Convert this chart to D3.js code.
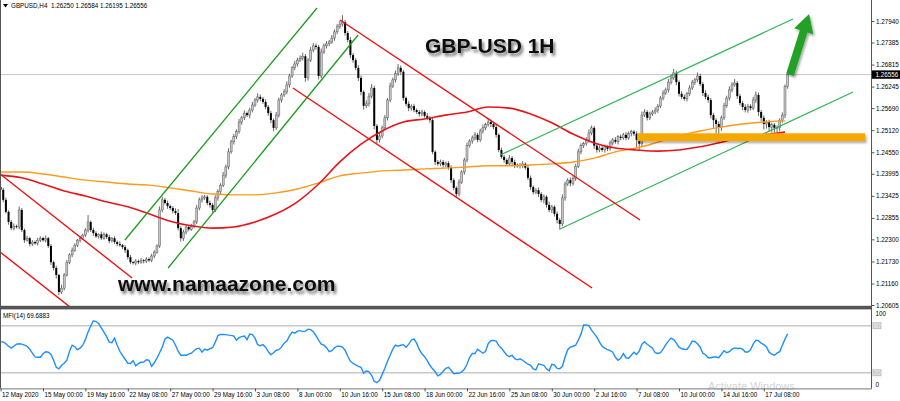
<!DOCTYPE html>
<html>
<head>
<meta charset="utf-8">
<script src="https://cdn.jsdelivr.net/npm/d3@7"></script>
<style>
  body { margin: 0; background: #fff; }
  svg { display: block; }
  text { font-family: "Liberation Sans", Arial, sans-serif; }
</style>
</head>
<body>
<div id="chart"></div>
<script>
// ---- data (GBPUSD H4) ----
const header = "GBPUSD,H4  1.26250 1.26584 1.26195 1.26556";
const firstOpen = 1.2365;
const closes = [
  1.2358,1.2332,1.2301,1.2275,1.2259,1.2264,1.2262,1.2306,1.2254,1.2228,
  1.2233,1.2218,1.2223,1.2220,1.2228,1.2233,1.2228,1.2233,1.2213,1.2171,
  1.2156,1.2138,1.2094,1.2104,1.2138,1.2171,1.2190,1.2202,1.2215,1.2228,
  1.2233,1.2241,1.2254,1.2275,1.2254,1.2246,1.2238,1.2243,1.2233,1.2243,
  1.2236,1.2226,1.2233,1.2223,1.2218,1.2215,1.2210,1.2202,1.2184,1.2171,
  1.2169,1.2174,1.2171,1.2176,1.2174,1.2179,1.2176,1.2187,1.2197,1.2213,
  1.2306,1.2332,1.2324,1.2316,1.2311,1.2303,1.2298,1.2259,1.2233,1.2249,
  1.2262,1.2256,1.2264,1.2275,1.2311,1.2332,1.2337,1.2340,1.2324,1.2319,
  1.2306,1.2337,1.2353,1.2370,1.2396,1.2417,1.2456,1.2482,1.2495,1.2508,
  1.2533,1.2544,1.2556,1.2551,1.2564,1.2577,1.2590,1.2598,1.2593,1.2585,
  1.2572,1.2556,1.2538,1.2518,1.2551,1.2590,1.2603,1.2611,1.2629,1.2652,
  1.2673,1.2683,1.2693,1.2698,1.2703,1.2647,1.2693,1.2719,1.2730,1.2727,
  1.2652,1.2714,1.2730,1.2735,1.2740,1.2750,1.2766,1.2779,1.2786,1.2791,
  1.2763,1.2745,1.2706,1.2693,1.2673,1.2647,1.2611,1.2575,1.2580,1.2600,
  1.2621,1.2523,1.2487,1.2497,1.2518,1.2544,1.2590,1.2626,1.2642,1.2658,
  1.2673,1.2663,1.2595,1.2580,1.2569,1.2574,1.2564,1.2559,1.2554,1.2559,
  1.2549,1.2544,1.2538,1.2456,1.2430,1.2425,1.2430,1.2422,1.2427,1.2415,
  1.2383,1.2363,1.2347,1.2378,1.2404,1.2435,1.2472,1.2484,1.2492,1.2500,
  1.2487,1.2510,1.2518,1.2526,1.2533,1.2528,1.2520,1.2500,1.2461,1.2443,
  1.2435,1.2425,1.2440,1.2430,1.2420,1.2422,1.2420,1.2425,1.2415,1.2389,
  1.2365,1.2352,1.2357,1.2347,1.2332,1.2340,1.2319,1.2306,1.2314,1.2296,
  1.2280,1.2270,1.2337,1.2373,1.2383,1.2375,1.2388,1.2419,1.2456,1.2472,
  1.2477,1.2487,1.2505,1.2518,1.2472,1.2461,1.2466,1.2461,1.2469,1.2464,
  1.2479,1.2487,1.2482,1.2495,1.2492,1.2500,1.2492,1.2503,1.2508,1.2503,
  1.2487,1.2477,1.2551,1.2559,1.2544,1.2554,1.2559,1.2564,1.2574,1.2595,
  1.2608,1.2616,1.2636,1.2647,1.2660,1.2636,1.2606,1.2598,1.2593,1.2606,
  1.2621,1.2636,1.2642,1.2652,1.2631,1.2608,1.2598,1.2590,1.2551,1.2538,
  1.2528,1.2520,1.2544,1.2575,1.2595,1.2616,1.2629,1.2634,1.2600,1.2582,
  1.2572,1.2564,1.2574,1.2569,1.2590,1.2603,1.2559,1.2544,1.2528,1.2533,
  1.2520,1.2526,1.2518,1.2518,1.2538,1.2551,1.2625,1.26556
];
// wick lengths above / below the body, in pips
const wickUp = [
  8,5,6,4,5,7,4,9,5,4, 6,3,5,4,6,5,4,7,3,5, 4,6,3,9,5,6,4,7,5,3, 6,4,5,18,4,6,5,3,7,5,
  4,6,3,5,4,7,3,5,4,6, 3,5,4,6,3,5,4,6,5,4, 9,8,5,6,4,5,7,10,5,6, 4,5,6,5,8,6,7,5,4,6,
  5,7,6,5,8,6,9,5,7,6, 8,5,7,4,6,8,5,9,6,5, 7,5,6,4,8,6,5,7,9,6, 5,8,6,7,9,6,5,8,7,6,
  5,9,6,7,5,8,6,7,9,18, 6,5,8,6,5,7,6,4,9,8, 10,6,5,8,6,7,5,9,6,8, 10,6,5,4,7,5,6,4,5,6,
  4,7,5,6,4,5,6,5,4,5, 6,5,4,7,5,6,8,5,6,7, 5,6,8,5,9,6,5,7,4,6, 5,4,8,5,6,4,5,7,4,5,
  6,4,5,7,5,6,4,8,5,4, 6,5,9,6,5,7,5,6,8,6, 5,7,9,6,5,4,7,5,6,4, 6,5,7,4,6,5,7,6,5,4,
  6,5,9,7,5,6,5,7,6,5, 7,6,8,9,10,6,5,7,6,5, 7,6,5,9,6,5,7,6,5,6, 5,7,6,8,6,9,7,10,5,6,
  5,7,6,5,8,9,6,5,6,5, 6,5,4,6,5,7,5,3
];
const wickDn = [
  5,6,4,7,5,6,4,6,5,7, 4,6,5,4,6,5,4,6,5,7, 6,9,8,5,6,4,5,6,4,5, 6,4,5,6,5,7,4,6,5,4,
  5,6,4,5,6,4,5,7,6,5, 4,6,5,4,6,5,4,5,6,4, 5,6,4,7,5,6,5,6,9,7, 6,5,4,6,5,6,7,5,6,7,
  6,5,7,6,5,8,6,5,7,6, 5,7,6,5,8,6,5,7,6,5, 6,7,8,9,5,6,7,5,6,7, 5,6,7,5,6,10,7,5,6,7,
  9,6,5,7,6,5,7,6,5,6, 7,6,8,7,6,8,9,10,6,7, 6,9,10,7,6,5,7,6,5,7, 6,8,7,6,8,7,6,5,7,6,
  5,6,7,6,8,5,6,7,6,5, 7,6,8,6,5,7,6,5,7,6, 6,5,7,6,5,8,6,7,6,5, 7,6,5,8,6,5,7,6,5,6,
  7,6,5,8,6,9,7,6,8,7, 9,15,6,7,5,8,6,7,5,6, 6,5,7,6,8,7,6,5,7,6, 5,6,5,7,6,5,6,5,7,6,
  20,16,6,5,7,6,5,6,7,5, 6,5,7,6,5,8,7,6,5,7, 6,5,7,6,5,8,6,7,9,20, 45,38,10,6,5,7,6,5,7,6,
  8,6,7,6,5,8,10,9,14,12, 10,14,12,11,9,7,8,6
];
// MFI(14), one value per bar
const mfi = [
  59.4,59.4,57.0,53.8,51.3,53.8,56.4,57.0,56.4,55.1, 53.8,50.0,44.9,40.1,39.7,39.7,44.2,46.8,46.2,43.6,
  35.9,26.9,25.0,29.5,32.1,35.9,47.4,55.1,53.2,49.4, 51.3,55.1,62.2,71.8,79.5,86.3,85.3,82.7,77.3,71.8,
  66.0,59.0,58.3,64.1,55.1,47.4,41.7,37.2,32.1,31.7, 35.3,28.8,31.7,33.3,33.7,36.5,35.9,28.2,32.7,38.5,
  45.5,52.6,62.8,65.4,63.5,61.5,55.1,47.4,42.3,42.3, 42.3,43.6,44.9,48.1,50.6,51.3,46.2,50.0,48.7,50.6,
  51.9,59.0,67.3,68.8,68.8,68.6,67.9,67.7,66.7,61.5, 64.7,66.0,66.7,62.2,69.2,68.6,64.1,55.8,54.5,55.8,
  52.6,46.8,42.9,45.5,48.7,49.4,52.6,57.7,60.3,66.7, 71.8,70.5,73.1,73.7,72.4,73.1,75.6,75.0,72.2,67.3,
  61.5,56.4,55.1,51.9,46.8,48.1,51.9,53.8,53.8,52.6, 48.7,41.0,34.6,32.1,30.1,28.2,26.9,19.2,22.4,21.2,
  16.7,9.0,7.3,10.3,17.9,25.6,34.6,42.3,50.0,55.1, 53.8,55.1,55.8,52.6,56.4,61.5,63.1,57.7,49.4,44.2,
  40.4,35.3,29.5,25.0,21.2,16.0,17.9,21.8,25.6,26.9, 23.1,18.8,19.2,19.6,20.9,24.4,30.8,39.7,44.5,44.5,
  50.0,47.4,44.9,47.4,57.0,60.9,61.1,60.3,54.5,51.3, 46.8,42.3,40.4,42.3,37.8,36.5,37.8,35.9,33.3,30.8,
  29.5,25.0,23.7,31.4,30.4,29.5,25.0,22.4,30.8,29.9, 25.6,25.0,28.2,39.7,49.4,52.6,53.8,55.1,61.5,69.2,
  80.8,80.8,80.1,74.4,69.9,65.4,59.0,53.8,51.3,49.4, 48.1,46.2,39.7,35.9,38.5,44.5,39.1,38.5,42.3,46.2,
  43.2,47.4,56.4,59.6,56.4,53.8,51.3,45.5,44.5,45.5, 50.0,55.8,60.3,64.1,62.2,57.7,52.6,50.6,50.0,49.7,
  54.5,60.3,59.6,57.0,52.6,44.9,42.9,39.1,39.1,40.1, 40.1,39.1,43.6,48.1,45.5,46.8,50.0,51.7,50.9,51.3,
  50.0,46.5,46.5,49.4,56.4,61.5,60.9,57.7,55.8,53.2, 46.2,43.6,42.3,44.9,46.8,55.1,62.8,69.6883
];
// moving averages, sampled every 8 bars
const maStep = 8;
const maRed = [1.2396,1.2389,1.2373,1.2355,1.2342,1.2327,1.2314,1.2296,1.2277,1.2265,1.2259,1.2262,1.2275,
  1.2296,1.2327,1.2373,1.2430,1.2476,1.2510,1.2533,1.2541,1.2551,1.2559,1.2572,1.2569,1.2554,1.2531,1.2502,
  1.2479,1.2466,1.2461,1.2458,1.2461,1.2469,1.2481,1.2494,1.2500,1.2507];
const maOrange = [1.2404,1.2404,1.2399,1.2391,1.2383,1.2378,1.2373,1.2370,1.2363,1.2355,1.2347,1.2345,1.2345,
  1.2350,1.2360,1.2376,1.2394,1.2401,1.2407,1.2409,1.2412,1.2414,1.2417,1.2420,1.2420,1.2422,1.2425,1.2430,
  1.2440,1.2456,1.2466,1.2481,1.2497,1.2510,1.2520,1.2528,1.2533,1.2536];

// trendlines: [bar0, price0, bar1, price1]
const greenChannelUp = [[46.9, 1.22284, 119.4, 1.28276], [63.2, 1.21561, 134.9, 1.27578]];
const greenChannelNow = [[188.5, 1.24479, 299.0, 1.27992], [211.1, 1.22568, 321.7, 1.26106]];
const redChannels = [[-0.2, 1.23988, 49.6, 1.21302], [-0.2, 1.21974, 26.2, 1.20553],
                     [128.1, 1.27966, 241.3, 1.22800], [110.3, 1.26209, 223.2, 1.21044]];
const supportZone = [240.2, 326.2, 1.2484, 1.2504];   // bar from, bar to, price low, price high
const arrowFrom = [297.9, 1.2655];
const arrowTo = [305.1, 1.2812];

const priceTicks = [1.27940, 1.27385, 1.26815, 1.26245, 1.25690, 1.25120, 1.24550,
                    1.23995, 1.23425, 1.22855, 1.22300, 1.21730, 1.21160, 1.20605];
const lastPrice = 1.26556;
const timeLabels = ["12 May 2020", "15 May 00:00", "19 May 16:00", "22 May 08:00", "27 May 00:00",
  "29 May 16:00", "3 Jun 08:00", "8 Jun 00:00", "10 Jun 16:00", "15 Jun 08:00", "18 Jun 00:00",
  "22 Jun 16:00", "25 Jun 08:00", "30 Jun 00:00", "2 Jul 16:00", "7 Jul 08:00", "10 Jul 00:00",
  "14 Jul 16:00", "17 Jul 08:00"];
const timeLabelBars = timeLabels.map((d, k) => k * 16);
const mfiLevels = [80, 20];
const mfiScaleLabels = [100, 0];

// ---- layout ----
const width = 900, height = 401;
const paneRight = 871;
const pip = 0.0001;
const fs = 6.3;

const svg = d3.select("#chart").append("svg")
    .attr("width", width)
    .attr("height", height);

const defs = svg.append("defs");
defs.append("clipPath").attr("id", "mainClip")
  .append("rect").attr("x", 0).attr("y", 0).attr("width", paneRight).attr("height", 306);
defs.append("clipPath").attr("id", "mfiClip")
  .append("rect").attr("x", 0).attr("y", 310).attr("width", paneRight).attr("height", 78);
const shadow = defs.append("filter").attr("id", "shadow")
    .attr("x", "-10%").attr("y", "-30%").attr("width", "130%").attr("height", "180%");
shadow.append("feDropShadow").attr("dx", 1.5).attr("dy", 2).attr("stdDeviation", 1.2)
    .attr("flood-color", "#000").attr("flood-opacity", 0.35);
const textShadow = defs.append("filter").attr("id", "textShadow")
    .attr("x", "-10%").attr("y", "-40%").attr("width", "130%").attr("height", "200%");
textShadow.append("feDropShadow").attr("dx", 2).attr("dy", 3).attr("stdDeviation", 1.8)
    .attr("flood-color", "#000").attr("flood-opacity", 0.55);

const n = closes.length;
const x = d3.scaleLinear().domain([0, n - 1]).range([0.6, 0.6 + 2.65 * (n - 1)]);
const y = d3.scaleLinear().domain([1.20605, 1.27940]).range([305, 21]);
const ym = d3.scaleLinear().domain([0, 100]).range([388.4, 310]);

const candles = closes.map((c, i) => {
  const o = i ? closes[i - 1] : firstOpen;
  return { i, o, c, h: Math.max(o, c) + wickUp[i] * pip, l: Math.min(o, c) - wickDn[i] * pip };
});

const main = svg.append("g").attr("clip-path", "url(#mainClip)");

// last price line
main.append("line")
    .attr("x1", 0).attr("x2", paneRight)
    .attr("y1", y(lastPrice)).attr("y2", y(lastPrice))
    .attr("stroke", "#c8c8c8").attr("stroke-width", 1);

// candles
const gC = main.append("g");
gC.selectAll("line").data(candles).join("line")
    .attr("x1", d => x(d.i)).attr("x2", d => x(d.i))
    .attr("y1", d => y(d.h)).attr("y2", d => y(d.l))
    .attr("stroke", "#444").attr("stroke-width", 0.8);
gC.selectAll("rect").data(candles).join("rect")
    .attr("x", d => x(d.i) - 1).attr("width", 2)
    .attr("y", d => y(Math.max(d.o, d.c)))
    .attr("height", d => Math.max(0.8, Math.abs(y(d.o) - y(d.c))))
    .attr("fill", d => d.c >= d.o ? "#c4c4c4" : "#000")
    .attr("stroke", d => d.c >= d.o ? "#555" : "none")
    .attr("stroke-width", 0.45);

// moving averages
const maLine = d3.line()
    .x((d, k) => x(k * maStep))
    .y(d => y(d))
    .curve(d3.curveMonotoneX);
main.append("path").attr("d", maLine(maOrange))
    .attr("fill", "none").attr("stroke", "#ff9a1a").attr("stroke-width", 1.4);
main.append("path").attr("d", maLine(maRed))
    .attr("fill", "none").attr("stroke", "#e8141c").attr("stroke-width", 1.6);

// trendlines
function drawLines(list, colour, w) {
  main.append("g").selectAll("line").data(list).join("line")
      .attr("x1", d => x(d[0])).attr("y1", d => y(d[1]))
      .attr("x2", d => x(d[2])).attr("y2", d => y(d[3]))
      .attr("stroke", colour).attr("stroke-width", w);
}
drawLines(greenChannelUp, "#1f9a1f", 1.3);
drawLines(greenChannelNow, "#34b45a", 1.3);
drawLines(redChannels, "#f01010", 1.4);

// support zone
main.append("rect")
    .attr("x", x(supportZone[0])).attr("width", x(supportZone[1]) - x(supportZone[0]))
    .attr("y", y(supportZone[3])).attr("height", y(supportZone[2]) - y(supportZone[3]))
    .attr("fill", "#f7a800").attr("filter", "url(#shadow)");

// arrow
(function () {
  const sx = x(arrowFrom[0]), sy = y(arrowFrom[1]);
  const tx = x(arrowTo[0]), ty = y(arrowTo[1]);
  const len = Math.hypot(tx - sx, ty - sy);
  const ux = (tx - sx) / len, uy = (ty - sy) / len;
  const nx = -uy, ny = ux;
  const hl = 18, hw = 10, sw = 4;
  const bx = tx - ux * hl, by = ty - uy * hl;
  const pts = [
    [sx + nx * sw, sy + ny * sw], [bx + nx * sw, by + ny * sw], [bx + nx * hw, by + ny * hw],
    [tx, ty], [bx - nx * hw, by - ny * hw], [bx - nx * sw, by - ny * sw], [sx - nx * sw, sy - ny * sw]
  ];
  svg.append("polygon").attr("points", pts.map(p => p.join(",")).join(" "))
      .attr("fill", "#22a126").attr("filter", "url(#shadow)");
})();

// overlay texts
svg.append("text").attr("x", 425).attr("y", 53)
    .attr("font-size", 21).attr("font-weight", "bold").attr("fill", "#111")
    .attr("filter", "url(#textShadow)")
    .text("GBP-USD 1H");
svg.append("text").attr("x", 118).attr("y", 291)
    .attr("font-size", 21).attr("font-weight", "bold").attr("fill", "#111")
    .attr("filter", "url(#textShadow)")
    .text("www.namaazone.com");

// header
svg.append("path").attr("d", "M3,4 L8,4 L5.5,7.5 Z").attr("fill", "#000");
svg.append("text").attr("x", 11).attr("y", 8).attr("font-size", fs).attr("fill", "#000")
    .attr("xml:space", "preserve").text(header);

// ---- MFI pane ----
const mfiG = svg.append("g").attr("clip-path", "url(#mfiClip)");
mfiG.selectAll("line.level").data(mfiLevels).join("line")
    .attr("class", "level")
    .attr("x1", 0).attr("x2", paneRight)
    .attr("y1", d => ym(d)).attr("y2", d => ym(d))
    .attr("stroke", "#c8c8c8").attr("stroke-width", 1.6);
mfiG.append("path")
    .attr("d", d3.line().x((d, i) => x(i)).y(d => ym(d))(mfi))
    .attr("fill", "none").attr("stroke", "#1e8fff").attr("stroke-width", 1.4);
svg.append("text").attr("x", 3).attr("y", 317.5).attr("font-size", fs).attr("fill", "#000")
    .text("MFI(14) " + mfi[mfi.length - 1].toFixed(4));

// watermark (sits in the indicator pane, just above the time labels)
svg.append("text").attr("x", 708).attr("y", 390).attr("font-size", 11)
    .attr("font-family", "\"Open Sans\", sans-serif")
    .attr("fill", "#c8c8c8").attr("fill-opacity", 0.8).text("Activate Windows");

// separator between panes
svg.append("rect").attr("x", 0).attr("y", 305.8).attr("width", paneRight).attr("height", 3.6)
    .attr("fill", "#555");

// borders
svg.append("line").attr("x1", 0.5).attr("x2", 0.5).attr("y1", 0).attr("y2", 388.4)
    .attr("stroke", "#555").attr("stroke-width", 1);
svg.append("line").attr("x1", paneRight + 0.5).attr("x2", paneRight + 0.5).attr("y1", 0).attr("y2", 388.4)
    .attr("stroke", "#555").attr("stroke-width", 1);

// price axis
const yAxis = svg.append("g").attr("transform", `translate(${paneRight + 0.5},0)`)
    .call(d3.axisRight(y).tickValues(priceTicks).tickSize(3).tickPadding(1.5)
      .tickFormat(d3.format(".5f")));
yAxis.select(".domain").remove();
yAxis.selectAll("text").attr("font-size", fs).attr("fill", "#000")
    .attr("font-family", "\"Liberation Sans\", Arial, sans-serif");
yAxis.selectAll("line").attr("stroke", "#555");

// last price tag
svg.append("rect").attr("x", paneRight + 1).attr("y", y(lastPrice) - 4.2)
    .attr("width", width - paneRight - 1).attr("height", 8.4).attr("fill", "#000");
svg.append("text").attr("x", paneRight + 4.5).attr("y", y(lastPrice) + 2.2)
    .attr("font-size", fs).attr("fill", "#fff").text(d3.format(".5f")(lastPrice));

// MFI scale
svg.selectAll("text.mfiScale").data(mfiScaleLabels).join("text")
    .attr("class", "mfiScale")
    .attr("x", paneRight + 4.5)
    .attr("y", d => d === 100 ? ym(d) + 6 : ym(d) - 1)
    .attr("font-size", fs).attr("fill", "#000")
    .text(d => d);
const lvl = svg.selectAll("g.lvl").data(mfiLevels).join("g").attr("class", "lvl");
lvl.append("rect").attr("x", paneRight + 1.5).attr("y", d => ym(d) - 3.5)
    .attr("width", 9).attr("height", 7).attr("fill", "#c4c4c4");
lvl.append("text").attr("x", paneRight + 2.5).attr("y", d => ym(d) + 2.2)
    .attr("font-size", fs).attr("fill", "#f4f4f4").text(d => d);

// time axis
const xAxis = svg.append("g").attr("transform", "translate(0,388.4)")
    .call(d3.axisBottom(x).tickValues(timeLabelBars).tickSize(3)
      .tickFormat((d, k) => timeLabels[k]));
xAxis.select(".domain").attr("d", `M0,0.5H${paneRight + 1}`).attr("stroke", "#777");
xAxis.selectAll("line").attr("stroke", "#555");
xAxis.selectAll("text").attr("font-size", fs).attr("fill", "#000")
    .attr("text-anchor", "start").attr("dy", 0).attr("y", 8.8).attr("x", 1)
    .attr("font-family", "\"Liberation Sans\", Arial, sans-serif");
</script>
</body>
</html>
